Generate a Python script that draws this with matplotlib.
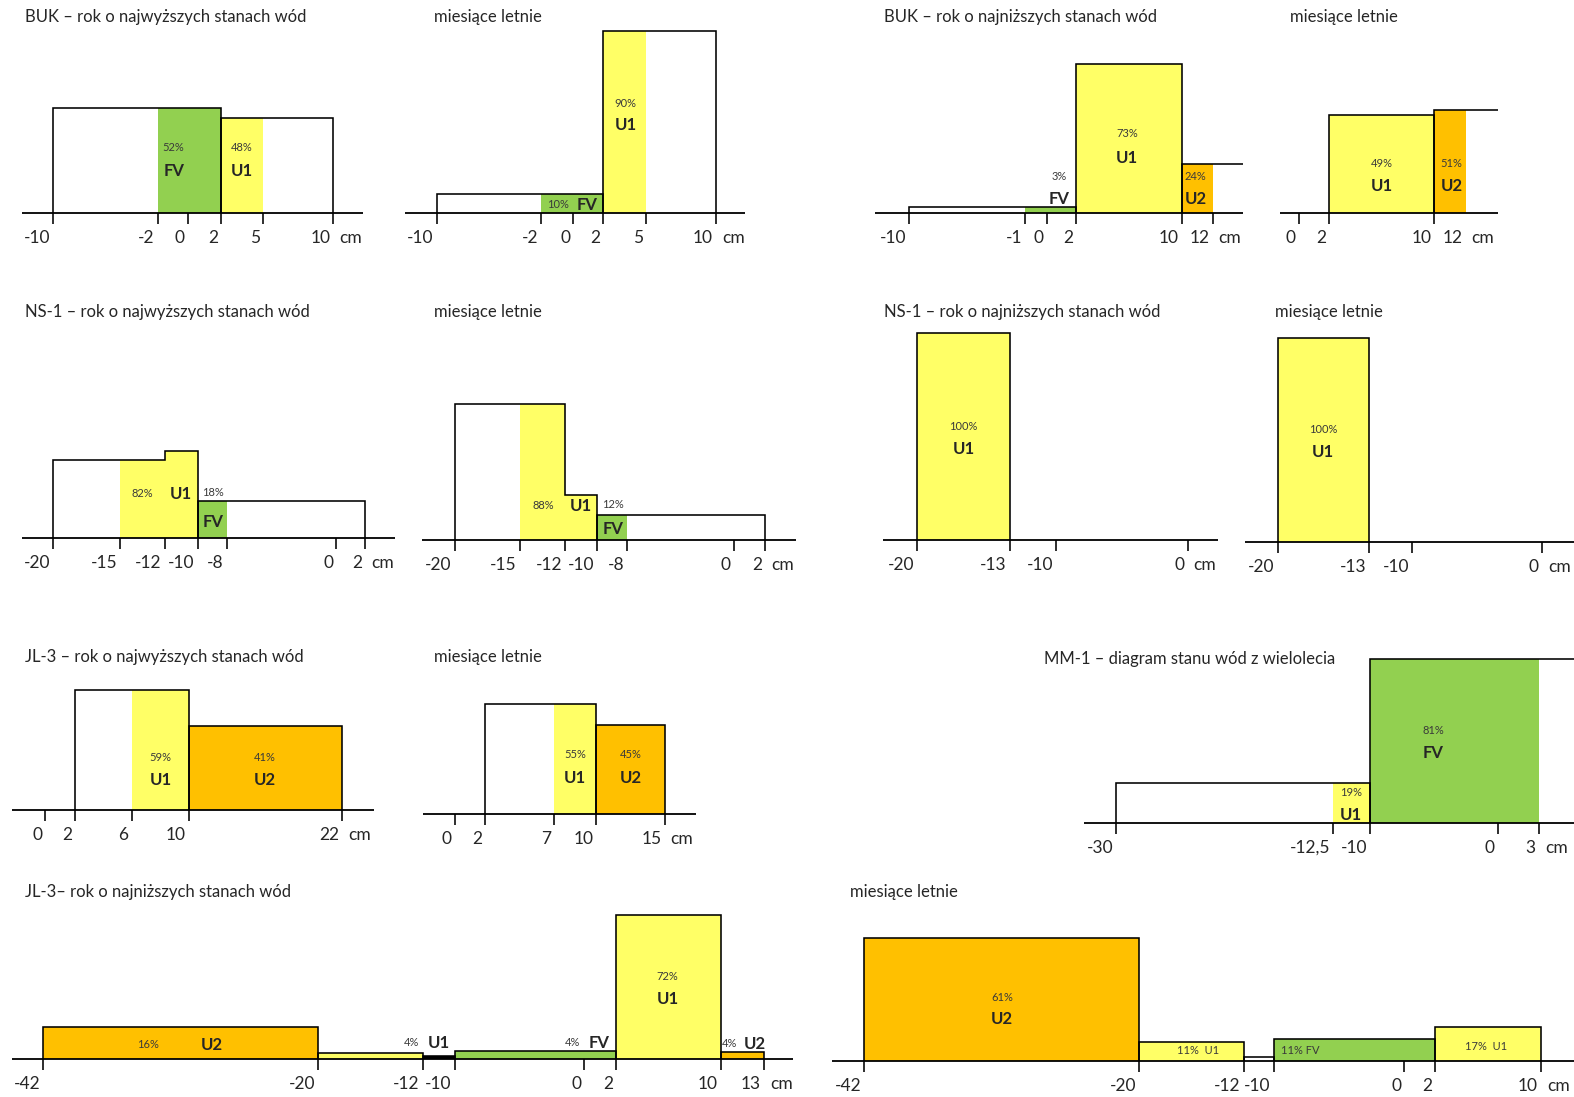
import numpy as np
import matplotlib
matplotlib.use("Agg")
import matplotlib.pyplot as plt

plt.rcParams['font.family'] = ['Lato', 'DejaVu Sans']

# ---------------------------------------------------------------- DATA
CLASS_COLORS = {'FV': '#92D050', 'U1': '#FFFF66', 'U2': '#FFC000', 'X': '#000000'}

titles = [
    "BUK – rok o najwyższych stanach wód", "miesiące letnie",
    "BUK – rok o najniższych stanach wód", "miesiące letnie",
    "NS-1 – rok o najwyższych stanach wód", "miesiące letnie",
    "NS-1 – rok o najniższych stanach wód", "miesiące letnie",
    "JL-3 – rok o najwyższych stanach wód", "miesiące letnie",
    "MM-1 – diagram stanu wód z wielolecia",
    "JL-3– rok o najniższych stanach wód", "miesiące letnie",
]

# tick values (cm) per panel
ticks_A = [-10, -2, 0, 2, 5, 10]
ticks_B = [-10, -2, 0, 2, 5, 10]
ticks_C = [-10, -1, 0, 2, 10, 12]
ticks_D = [0, 2, 10, 12]
ticks_E = [-20, -15, -12, -10, -8, 0, 2]
ticks_F = [-20, -15, -12, -10, -8, 0, 2]
ticks_G = [-20, -13, -10, 0]
ticks_H = [-20, -13, -10, 0]
ticks_I = [0, 2, 6, 10, 22]
ticks_J = [0, 2, 7, 10, 15]
ticks_K = [-30, -12.5, -10, 0, 3]
ticks_L = [-42, -20, -12, -10, 0, 2, 10, 13]
ticks_M = [-42, -20, -12, -10, 0, 2, 10]

# outline boxes: (bin edges, relative heights); None = open to the right
outline_A = [([-10, 2], [104]), ([2, 10], [94])]
outline_B = [([-10, 2], [19]), ([2, 10], [181])]
outline_C = [([-10, 2], [6]), ([2, 10], [148]), ([10, None], [49])]
outline_D = [([2, 10], [97]), ([10, None], [102])]
outline_E = [([-20, -12, -10], [78, 87]), ([-10, 2], [37])]
outline_F = [([-20, -12, -10], [135, 45]), ([-10, 2], [25])]
outline_G = [([-20, -13], [206])]
outline_H = [([-20, -13], [203])]
outline_I = [([2, 10], [120]), ([10, 22], [84])]
outline_J = [([2, 10], [110]), ([10, 15], [89])]
outline_K = [([-30, -10], [40]), ([-10, None], [163])]
outline_L = [([-42, -20], [32]), ([-20, -12], [6]), ([-12, -10], [3]),
             ([-10, 2], [8]), ([2, 10], [143]), ([10, 13], [7])]
outline_M = [([-42, -20], [122]), ([-20, -12], [19]), ([-12, -10], [4]),
             ([-10, 2], [22]), ([2, 10], [34])]

# coloured fills: (from, to, height, class)
fill_A = [(-2, 2, 104, 'FV'), (2, 5, 94, 'U1')]
fill_B = [(-2, 2, 19, 'FV'), (2, 5, 181, 'U1')]
fill_C = [(-1, 2, 6, 'FV'), (2, 10, 148, 'U1'), (10, 12, 49, 'U2')]
fill_D = [(2, 10, 97, 'U1'), (10, 12, 102, 'U2')]
fill_E = [(-15, -12, 78, 'U1'), (-12, -10, 87, 'U1'), (-10, -8, 37, 'FV')]
fill_F = [(-15, -12, 135, 'U1'), (-12, -10, 45, 'U1'), (-10, -8, 25, 'FV')]
fill_G = [(-20, -13, 206, 'U1')]
fill_H = [(-20, -13, 203, 'U1')]
fill_I = [(6, 10, 120, 'U1'), (10, 22, 84, 'U2')]
fill_J = [(7, 10, 110, 'U1'), (10, 15, 89, 'U2')]
fill_K = [(-12.5, -10, 40, 'U1'), (-10, 3, 163, 'FV')]
fill_L = [(-42, -20, 32, 'U2'), (-20, -12, 6, 'U1'), (-12, -10, 3, 'X'),
          (-10, 2, 8, 'FV'), (2, 10, 143, 'U1'), (10, 13, 7, 'U2')]
fill_M = [(-42, -20, 122, 'U2'), (-20, -12, 19, 'U1'),
          (-10, 2, 22, 'FV'), (2, 10, 34, 'U1')]

# label texts
labels_A = ['52%', 'FV', '48%', 'U1']
labels_B = ['10%', 'FV', '90%', 'U1']
labels_C = ['3%', 'FV', '73%', 'U1', '24%', 'U2']
labels_D = ['49%', 'U1', '51%', 'U2']
labels_E = ['82%', 'U1', '18%', 'FV']
labels_F = ['88%', 'U1', '12%', 'FV']
labels_G = ['100%', 'U1']
labels_H = ['100%', 'U1']
labels_I = ['59%', 'U1', '41%', 'U2']
labels_J = ['55%', 'U1', '45%', 'U2']
labels_K = ['81%', 'FV', '19%', 'U1']
labels_L = ['16%', 'U2', '4%', 'U1', '4%', 'FV', '72%', 'U1', '4%', 'U2']
labels_M = ['61%', 'U2', '11%  U1', '11% FV', '17%  U1']

# ---------------------------------------------------------------- LAYOUT
# reference pixel geometry (reference image at 1568 px width)
# title (x, y), axis line (x0, x1), baseline y, pixel position of each tick
LAYOUT = [
    dict(title=(25, 17), line=(22, 362), base=212, tickpx=[53, 157, 187, 220, 262, 332]),
    dict(title=(432, 17), line=(403, 742), base=212, tickpx=[435, 539, 571, 601, 644, 713]),
    dict(title=(881, 17), line=(872, 1238), base=212, tickpx=[906, 1021, 1043, 1072, 1177, 1208]),
    dict(title=(1285, 17), line=(1275, 1492), base=212, tickpx=[1294, 1324, 1429, 1460], nomark=[12]),
    dict(title=(25, 311), line=(22, 393), base=536, tickpx=[53, 120, 164, 197, 226, 335, 364]),
    dict(title=(432, 311), line=(420, 793), base=538, tickpx=[453, 518, 563, 595, 625, 731, 762]),
    dict(title=(881, 311), line=(880, 1213), base=538, tickpx=[914, 1006, 1052, 1183]),
    dict(title=(1270, 311), line=(1240, 1568), base=540, tickpx=[1273, 1364, 1407, 1536]),
    dict(title=(25, 655), line=(12, 373), base=807, tickpx=[45, 75, 131, 188, 341]),
    dict(title=(432, 655), line=(421, 693), base=811, tickpx=[453, 483, 552, 594, 662]),
    dict(title=(1040, 657), line=(1080, 1568), base=820, tickpx=[1112, 1328, 1365, 1492, 1533]),
    dict(title=(25, 889), line=(12, 790), base=1055, tickpx=[43, 317, 421, 453, 582, 614, 718, 761]),
    dict(title=(847, 889), line=(829, 1568), base=1057, tickpx=[861, 1135, 1239, 1269, 1399, 1430, 1535]),
]

# label positions in reference px (x, y, style)
LPOS = [
    [(173, 147, 'p'), (173, 170, 'c'), (241, 147, 'p'), (241, 170, 'c')],
    [(556, 204, 'p'), (585, 204, 'c'), (623, 103, 'p'), (623, 125, 'c')],
    [(1055, 176, 'p'), (1055, 198, 'c'), (1123, 133, 'p'), (1123, 157, 'c'),
     (1191, 176, 'p'), (1191, 198, 'c')],
    [(1377, 163, 'p'), (1377, 185, 'c'), (1446, 163, 'p'), (1446, 185, 'c')],
    [(142, 492, 'p'), (180, 492, 'c'), (212, 491, 'p'), (212, 520, 'c')],
    [(541, 504, 'p'), (579, 504, 'c'), (611, 503, 'p'), (611, 527, 'c')],
    [(960, 425, 'p'), (960, 447, 'c')],
    [(1318, 428, 'p'), (1318, 450, 'c')],
    [(160, 755, 'p'), (160, 777, 'c'), (264, 755, 'p'), (264, 777, 'c')],
    [(573, 752, 'p'), (573, 775, 'c'), (628, 752, 'p'), (628, 775, 'c')],
    [(1428, 728, 'p'), (1428, 750, 'c'), (1346, 790, 'p'), (1346, 812, 'c')],
    [(147, 1041, 'p'), (211, 1041, 'c'), (410, 1039, 'p'), (437, 1039, 'c'),
     (570, 1039, 'p'), (597, 1039, 'c'), (665, 973, 'p'), (665, 995, 'c'),
     (727, 1040, 'p'), (752, 1040, 'c')],
    [(998, 994, 'p'), (998, 1015, 'c'), (1193, 1047, 's'), (1295, 1047, 's'),
     (1480, 1043, 's')],
]

PANELS = list(zip(
    [ticks_A, ticks_B, ticks_C, ticks_D, ticks_E, ticks_F, ticks_G, ticks_H,
     ticks_I, ticks_J, ticks_K, ticks_L, ticks_M],
    [outline_A, outline_B, outline_C, outline_D, outline_E, outline_F, outline_G,
     outline_H, outline_I, outline_J, outline_K, outline_L, outline_M],
    [fill_A, fill_B, fill_C, fill_D, fill_E, fill_F, fill_G, fill_H, fill_I,
     fill_J, fill_K, fill_L, fill_M],
    [labels_A, labels_B, labels_C, labels_D, labels_E, labels_F, labels_G,
     labels_H, labels_I, labels_J, labels_K, labels_L, labels_M],
))

W, H = 1574, 1097
SX, SY = W / 1568.0, H / 1093.0
AXH = 250  # axes height in reference px (1 height unit = 1 ref px)


def piecewise(xs, ys):
    """Piecewise-linear monotone map with linear extrapolation at both ends."""
    xs = np.asarray(xs, float)
    ys = np.asarray(ys, float)
    s0 = (ys[1] - ys[0]) / (xs[1] - xs[0])
    s1 = (ys[-1] - ys[-2]) / (xs[-1] - xs[-2])

    def f(v):
        v = np.asarray(v, float)
        out = np.interp(v, xs, ys)
        out = np.where(v < xs[0], ys[0] + (v - xs[0]) * s0, out)
        out = np.where(v > xs[-1], ys[-1] + (v - xs[-1]) * s1, out)
        return out
    return f


fig = plt.figure(figsize=(W / 100, H / 100), dpi=100)
fig.patch.set_facecolor('white')

LW = 1.15
TXT = '#262626'


def fmt(v):
    return ('%g' % v).replace('.', ',')


for title, lay, (ticks, outline, fills, labels), lpos in zip(titles, LAYOUT, PANELS, LPOS):
    x0, x1 = lay['line']
    base = lay['base']
    ax = fig.add_axes([x0 * SX / W, 1 - base * SY / H,
                       (x1 - x0) * SX / W, AXH * SY / H])
    fwd = piecewise(ticks, lay['tickpx'])
    inv = piecewise(lay['tickpx'], ticks)
    ax.set_xscale('function', functions=(fwd, inv))
    xmin, xmax = float(inv(x0)), float(inv(x1))
    ax.set_xlim(xmin, xmax)
    ax.set_ylim(0, AXH)
    ax.axis('off')

    # coloured fills
    for a, b, h, c in fills:
        ax.bar(a, h, width=b - a, align='edge', color=CLASS_COLORS[c],
               linewidth=0, zorder=1)

    # outlines
    for edges, heights in outline:
        e = [xmax + 2 if v is None else v for v in edges]
        ax.stairs(heights, e, baseline=0, fill=False, color='black',
                  linewidth=LW, zorder=2)

    # axis line
    ax.plot([xmin, xmax], [0, 0], color='black', lw=1.3, zorder=3,
            clip_on=False, solid_capstyle='butt')

    # ticks and tick labels
    nomark = lay.get('nomark', [])
    for v in ticks:
        if v not in nomark:
            ax.plot([v, v], [0, -11], color='black', lw=LW, zorder=3,
                    clip_on=False, solid_capstyle='butt')
        ax.annotate(fmt(v), xy=(v, 0), xytext=(-3 * SX, -25 * SY),
                    textcoords='offset pixels', ha='right', va='center',
                    fontsize=12.5, color=TXT, annotation_clip=False)
    ax.annotate('cm', xy=(ticks[-1], 0), xytext=(6 * SX, -25 * SY),
                textcoords='offset pixels', ha='left', va='center',
                fontsize=12.5, color=TXT, annotation_clip=False)

    # labels inside bars
    for s, (px, py, st) in zip(labels, lpos):
        lx, ly = float(inv(px)), base - py
        if st == 'c':
            ax.text(lx, ly, s, ha='center', va='center', fontsize=12,
                    fontweight='bold', color=TXT, clip_on=False, zorder=4)
        else:
            ax.text(lx, ly, s, ha='center', va='center', fontsize=8,
                    color='#3a3a3a', clip_on=False, zorder=4)

    # title
    tx, ty = lay['title']
    fig.text(tx * SX / W, 1 - ty * SY / H, title, ha='left', va='center',
             fontsize=12, color=TXT)

fig.savefig('out.png', dpi=100, facecolor='white')
